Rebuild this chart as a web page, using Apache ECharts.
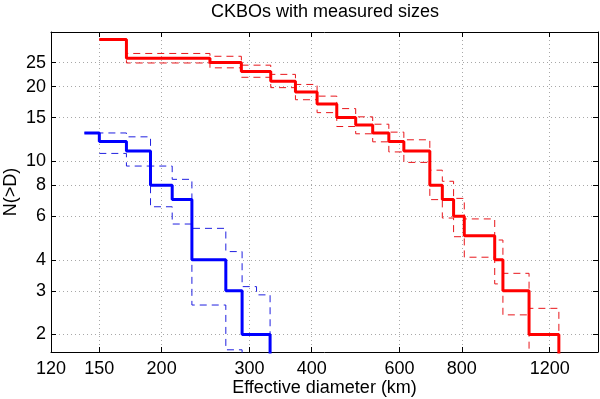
<!DOCTYPE html>
<html>
<head>
<meta charset="utf-8">
<script src="https://cdn.jsdelivr.net/npm/echarts@6/dist/echarts.min.js"></script>
<style>
html, body { margin: 0; padding: 0; background: #fff; }
#main { width: 600px; height: 399px; }
</style>
</head>
<body>
<div id="main"></div>
<script>
var xTicks = [120, 150, 200, 300, 400, 600, 800, 1200]
var yTicks = [2, 3, 4, 6, 8, 10, 15, 20, 25]
var xRange = [120, 1500]
var yRange = [1.7, 33.2]

// red: bigger objects, steps taken at diameters (km)
var redD = [150, 170, 250, 289, 331, 371, 410, 449, 490, 530, 571, 612, 690, 731, 770, 809, 931, 967, 1091, 1252]
var redN = [31, 26, 25, 23, 21, 19, 17, 15, 14, 13, 12, 11, 8, 7, 6, 5, 4, 3, 2, 1]
var redHiN = [31, 27.2, 26.5, 24.4, 22.4, 20.4, 18.3, 16.3, 15.1, 14.1, 13.1, 12.2, 9.2, 8.3, 7.08, 5.85, 4.81, 3.53, 2.55, 1]
var redLoN = [31, 24.9, 23.8, 21.8, 19.8, 17.7, 15.7, 13.8, 12.9, 11.97, 10.9, 9.89, 7.0, 5.9, 4.96, 4.1, 3.2, 2.4, 1, 1]

// blue
var blueD = [140, 150, 170, 190, 210, 230, 269, 290, 330]
var blueN = [13, 12, 11, 8, 7, 4, 3, 2, 1]
var blueHiD = [140, 170, 190, 210, 230, 269, 290, 310, 330]
var blueHiN = [13, 12.54, 9.56, 8.45, 5.36, 4.32, 3.12, 2.89, 1]
var blueLoD = [150, 170, 190, 210, 230, 269, 290]
var blueLoN = [10.75, 9.56, 6.55, 5.58, 2.63, 1.735, 1]

var font = 'Liberation Sans, Arial, Helvetica, sans-serif'
var lg = Math.log10

// both axes are drawn in log10 space, labels give the real values back
function pairs (xs, ys) {
  return xs.map(function (x, i) { return [lg(x), lg(ys[i])] })
}

function stepLine (data, color, width, dashed) {
  return {
    type: 'line',
    step: 'end',
    data: data,
    symbol: 'none',
    showSymbol: false,
    clip: true,
    silent: true,
    z: dashed ? 2 : 3,
    lineStyle: { color: color, width: width, type: dashed ? [7, 5] : 'solid' }
  }
}

function numLabel (v) {
  return String(Math.round(Math.pow(10, v)))
}

var chart = echarts.init(document.getElementById('main'))
var boxLine = { show: true, onZero: false, lineStyle: { color: '#000', width: 1 } }
var grid = { show: true, lineStyle: { color: '#a8a8a8', width: 1, type: [1, 3] } }
var xPos = xTicks.map(lg)
var yPos = yTicks.map(lg)

function axis (pos, range, where, main) {
  var a = {
    type: 'value',
    min: lg(range[0]),
    max: lg(range[1]),
    position: where,
    axisLine: boxLine,
    axisTick: { show: true, inside: true, length: 5, customValues: pos, lineStyle: { color: '#000' } },
    axisLabel: { show: false },
    minorTick: { show: false },
    splitLine: { show: false }
  }
  if (main) {
    a.axisLabel = { show: true, customValues: pos, formatter: numLabel, color: '#000', fontSize: 18, fontFamily: font }
    a.splitLine = grid
    a.nameLocation = 'middle'
    a.nameMoveOverlap = false
    a.nameTextStyle = { color: '#000', fontSize: 18, fontFamily: font }
  }
  return a
}

var xMain = axis(xPos, xRange, 'bottom', true)
xMain.name = 'Effective diameter (km)'
xMain.nameGap = 27
xMain.axisLabel.margin = 8
var yMain = axis(yPos, yRange, 'left', true)
yMain.name = 'N(>D)'
yMain.nameGap = 31
yMain.axisLabel.margin = 5

var option = {
  animation: false,
  backgroundColor: '#fff',
  grid: { left: 51, right: 2, top: 32, bottom: 47, containLabel: false, outerBoundsMode: 'none' },
  graphic: [{
    type: 'text',
    x: 325,
    y: 3,
    style: { text: 'CKBOs with measured sizes', align: 'center', fill: '#000', fontSize: 18, fontFamily: font }
  }],
  xAxis: [xMain, axis(xPos, xRange, 'top', false)],
  yAxis: [yMain, axis(yPos, yRange, 'right', false)],
  series: [
    stepLine(pairs(redD, redHiN), '#e8161b', 1, true),
    stepLine(pairs(redD, redLoN), '#e8161b', 1, true),
    stepLine(pairs(blueHiD, blueHiN), '#2020e0', 1, true),
    stepLine(pairs(blueLoD, blueLoN), '#2020e0', 1, true),
    stepLine(pairs(redD, redN), '#ff0000', 3, false),
    stepLine(pairs(blueD, blueN), '#0000ff', 3, false)
  ]
}

chart.setOption(option)
</script>
</body>
</html>
